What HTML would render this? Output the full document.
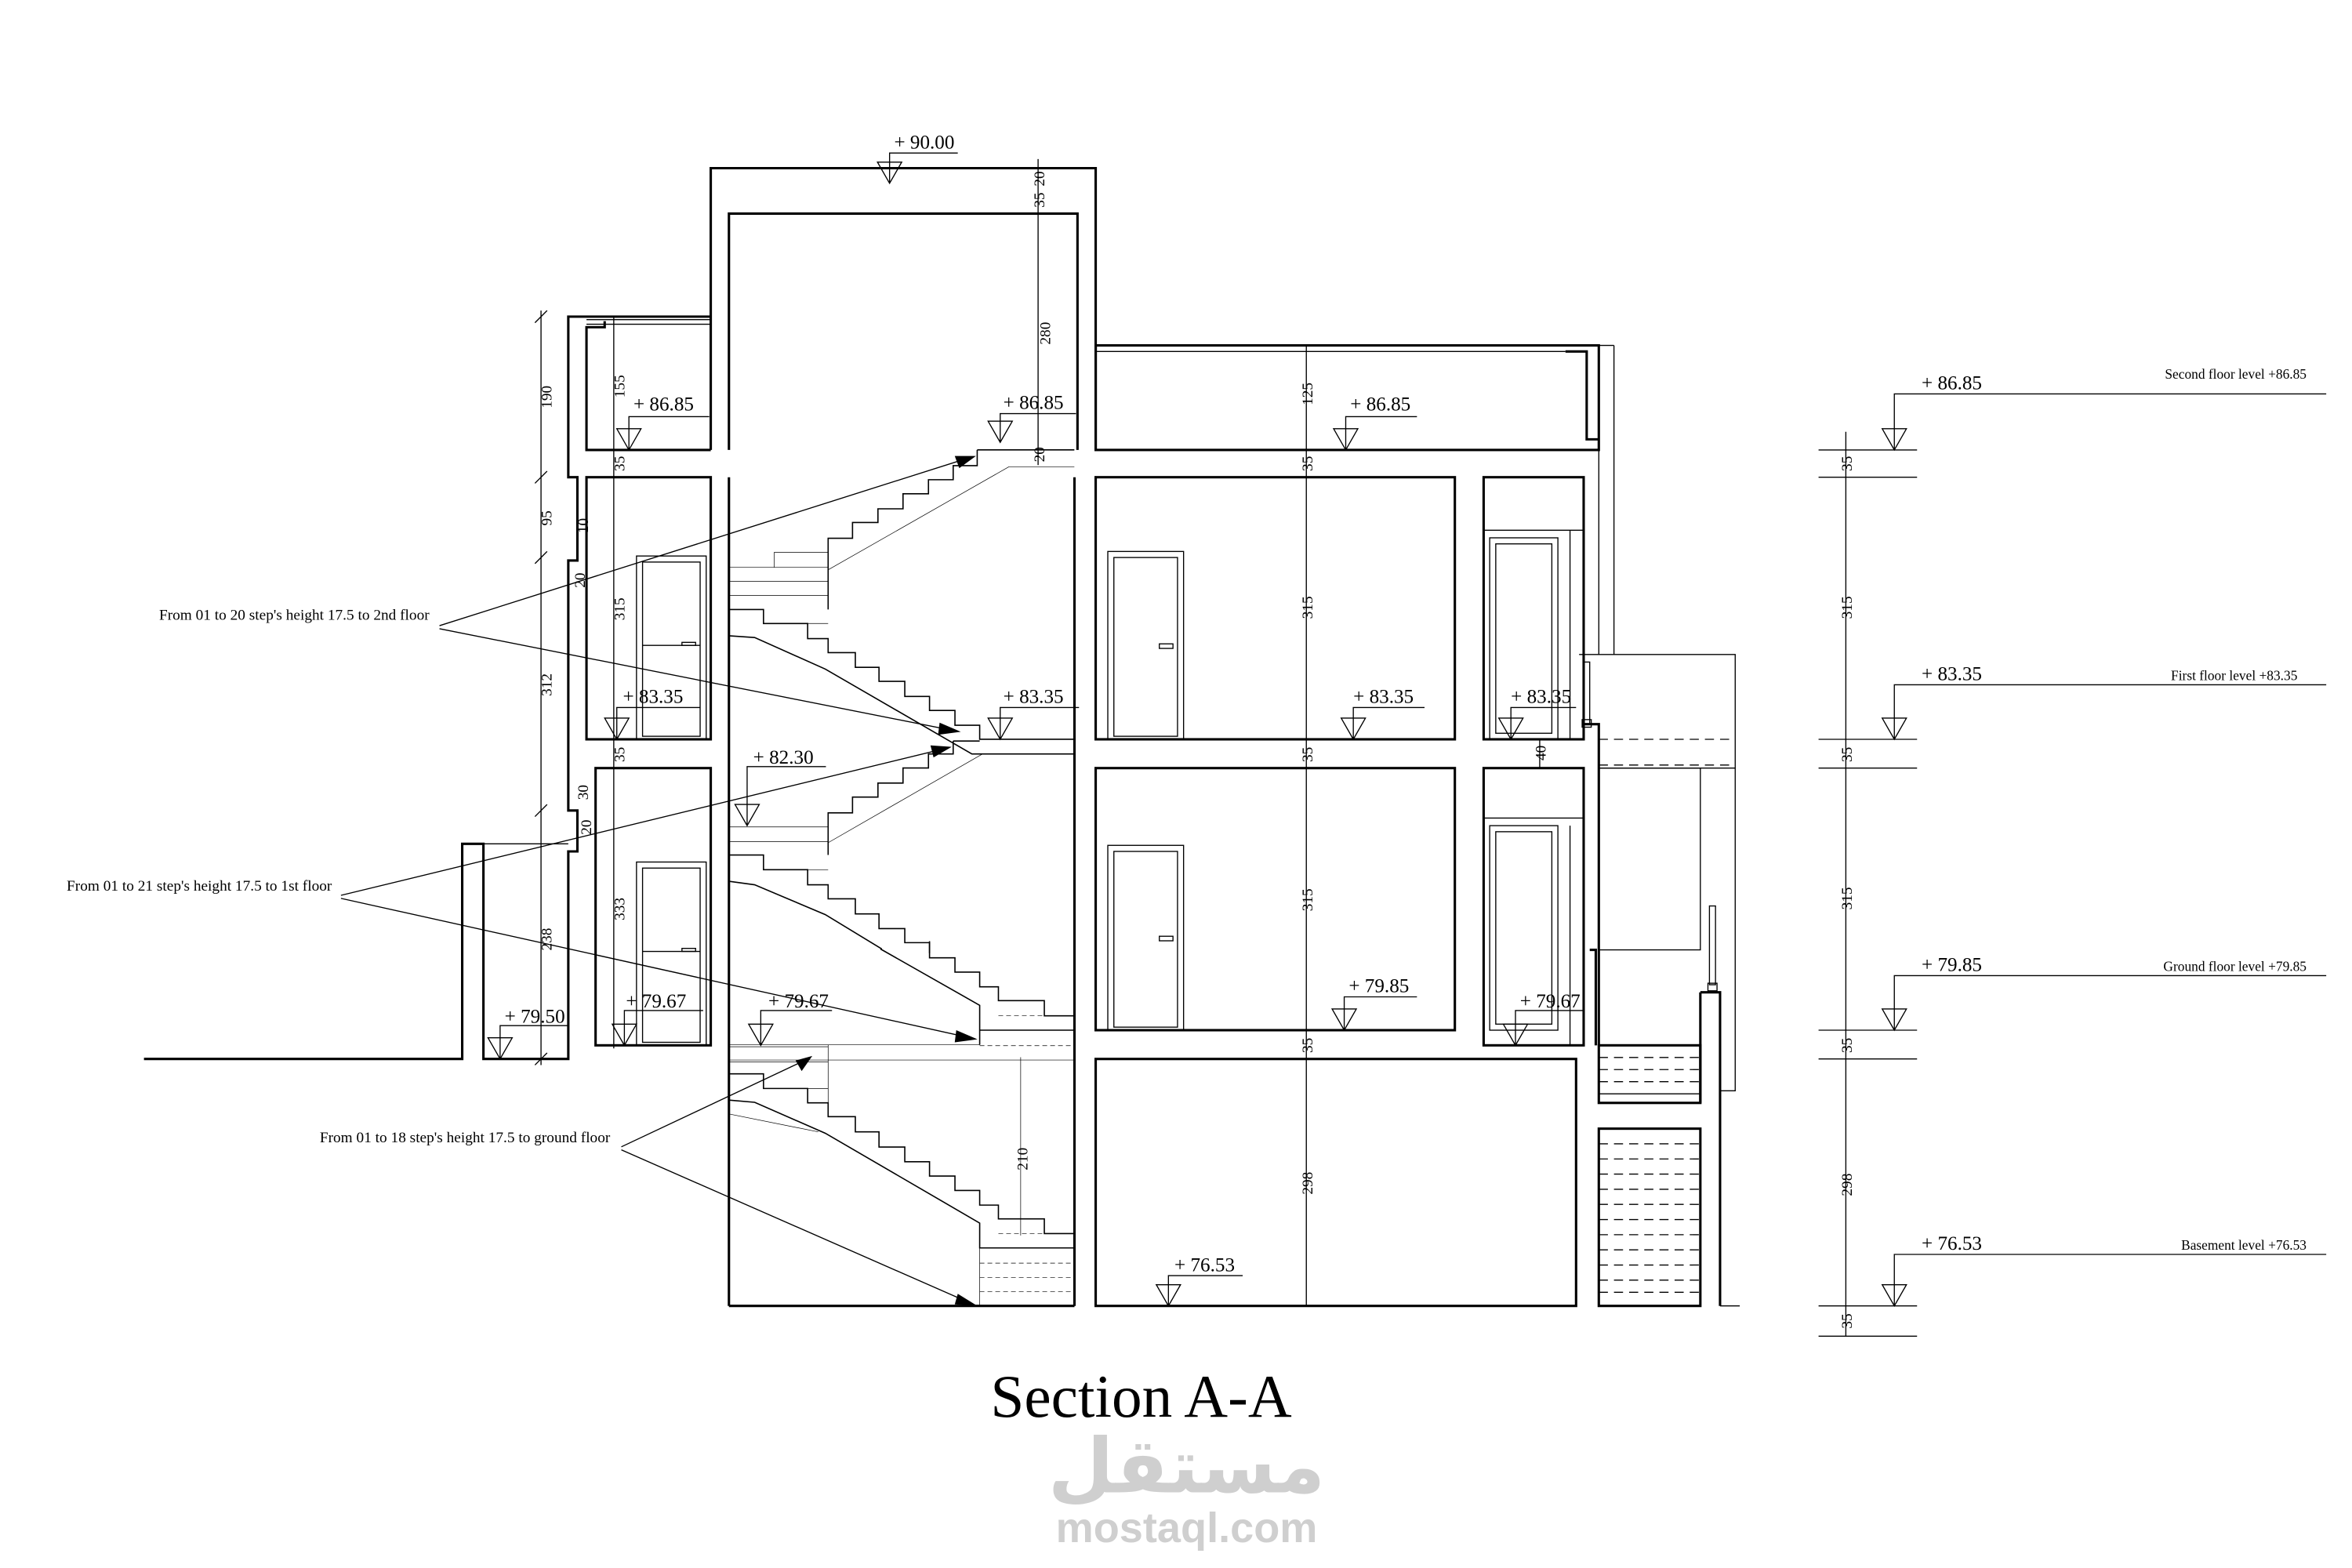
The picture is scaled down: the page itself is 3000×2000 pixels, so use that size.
<!DOCTYPE html>
<html><head><meta charset="utf-8"><style>
html,body{margin:0;padding:0;background:#fff;}
svg{display:block;}
text{font-family:"Liberation Serif",serif;fill:#000;}
.k{fill:none;stroke:#000;stroke-width:1.6;}
.t{fill:none;stroke:#000;stroke-width:0.7;}
.d{fill:none;stroke:#000;stroke-width:0.7;stroke-dasharray:6 4;}
.s{fill:none;stroke:#000;stroke-width:1.6;vector-effect:non-scaling-stroke;}
.st{fill:none;stroke:#000;stroke-width:0.7;vector-effect:non-scaling-stroke;}
.sd{fill:none;stroke:#000;stroke-width:0.7;stroke-dasharray:6 4;vector-effect:non-scaling-stroke;}
.lv{font-size:13px;}
.dm{font-size:10px;}
</style></head><body>
<svg width="3000" height="2000" viewBox="0 0 1552 1035" preserveAspectRatio="none" xmlns="http://www.w3.org/2000/svg">
<rect width="1552" height="1035" fill="#fff"/>

<!-- Tower -->
<path class="k" d="M469,297 L469,111 L723,111 L723,297"/>
<path class="k" d="M481,297 L481,141 L711,141 L711,297"/>
<line class="k" x1="481" y1="315" x2="481" y2="862"/>
<line class="k" x1="709" y1="315" x2="709" y2="862"/>
<line class="k" x1="481" y1="862" x2="709" y2="862"/>

<!-- Left block -->
<path class="k" d="M469,209 L375,209 L375,315 L381,315 L381,370 L375,370 L375,535 L381,535 L381,562 L375,562 L375,699 L319,699 L319,557 L305,557 L305,699 L95,699"/>
<line class="t" x1="387" y1="211" x2="469" y2="211"/>
<line class="t" x1="387" y1="214" x2="469" y2="214"/>
<path class="k" d="M469,297 L387,297 L387,216 L399,216 L399,212"/>
<rect class="k" x="387" y="315" width="82" height="173"/>
<rect class="k" x="393" y="507" width="76" height="183"/>
<line class="t" x1="319" y1="557" x2="375" y2="557"/>
<!-- left doors -->
<rect class="t" x="420" y="367" width="46" height="121"/>
<rect class="t" x="424" y="371" width="38" height="115"/>
<line class="t" x1="424" y1="426" x2="462" y2="426"/>
<rect class="t" x="450" y="424" width="9" height="2"/>
<rect class="t" x="420" y="569" width="46" height="121"/>
<rect class="t" x="424" y="573" width="38" height="115"/>
<line class="t" x1="424" y1="628" x2="462" y2="628"/>
<rect class="t" x="450" y="626" width="9" height="2"/>

<!-- Right block -->
<rect class="k" x="723" y="228" width="332" height="69"/>
<line class="t" x1="723" y1="232" x2="1033" y2="232"/>
<path class="k" d="M1033,232 L1047,232 L1047,290 L1055,290"/>
<rect class="k" x="723" y="315" width="237" height="173"/>
<rect class="k" x="723" y="507" width="237" height="173"/>
<rect class="k" x="723" y="699" width="317" height="163"/>
<rect class="k" x="979" y="315" width="66" height="173"/>
<rect class="k" x="979" y="507" width="66" height="183"/>
<line class="t" x1="979" y1="350" x2="1045" y2="350"/>
<line class="t" x1="979" y1="540" x2="1045" y2="540"/>
<rect class="t" x="983" y="355" width="45" height="133"/>
<rect class="t" x="987" y="359" width="37" height="125"/>
<rect class="t" x="983" y="545" width="45" height="135"/>
<rect class="t" x="987" y="549" width="37" height="127"/>
<line class="t" x1="1036" y1="350" x2="1036" y2="488"/>
<line class="t" x1="1036" y1="545" x2="1036" y2="690"/>
<!-- right doors -->
<rect class="t" x="731" y="364" width="50" height="124"/>
<rect class="t" x="735" y="368" width="42" height="118"/>
<rect class="t" x="765" y="425" width="9" height="3"/>
<rect class="t" x="731" y="558" width="50" height="122"/>
<rect class="t" x="735" y="562" width="42" height="116"/>
<rect class="t" x="765" y="618" width="9" height="3"/>

<!-- right extension -->
<line class="t" x1="1055" y1="297" x2="1055" y2="432"/>
<line class="t" x1="1065" y1="228" x2="1065" y2="432"/>
<line class="t" x1="1055" y1="228" x2="1065" y2="228"/>
<path class="t" d="M1042,432 L1145,432 L1145,720 L1135,720"/>
<path class="k" d="M1045,478 L1055,478 L1055,690"/>
<line class="d" x1="1055" y1="488" x2="1145" y2="488"/>
<line class="d" x1="1055" y1="505" x2="1145" y2="505"/>
<line class="t" x1="1055" y1="507" x2="1145" y2="507"/>
<path class="t" d="M1055,507 L1122,507 L1122,627 L1055,627"/>
<rect class="t" x="1045" y="437" width="4" height="41"/>
<rect class="t" x="1044" y="475" width="6" height="5"/>
<path class="k" d="M1049,627 L1053,627 L1053,690"/>
<rect class="k" x="1055" y="690" width="67" height="38"/>
<line class="d" x1="1055" y1="698" x2="1122" y2="698"/>
<line class="d" x1="1055" y1="706" x2="1122" y2="706"/>
<line class="d" x1="1055" y1="714" x2="1122" y2="714"/>
<line class="t" x1="1055" y1="722" x2="1122" y2="722"/>
<rect class="k" x="1055" y="745" width="67" height="117"/>
<g class="d">
<line x1="1055" y1="755" x2="1122" y2="755"/><line x1="1055" y1="765" x2="1122" y2="765"/>
<line x1="1055" y1="775" x2="1122" y2="775"/><line x1="1055" y1="785" x2="1122" y2="785"/>
<line x1="1055" y1="795" x2="1122" y2="795"/><line x1="1055" y1="805" x2="1122" y2="805"/>
<line x1="1055" y1="815" x2="1122" y2="815"/><line x1="1055" y1="825" x2="1122" y2="825"/>
<line x1="1055" y1="835" x2="1122" y2="835"/><line x1="1055" y1="845" x2="1122" y2="845"/>
<line x1="1055" y1="853" x2="1122" y2="853"/></g>
<path class="k" d="M1122,655 L1135,655 L1135,862"/>
<line class="k" x1="1122" y1="655" x2="1122" y2="728"/>
<line class="t" x1="1135" y1="862" x2="1148" y2="862"/>
<rect class="t" x="1128" y="598" width="4" height="52"/>
<rect class="t" x="1127" y="649" width="6" height="5"/>

<!-- Stairs upper (zoom1 coords) -->
<g transform="translate(470,263.4) scale(0.2331,0.2315)">
<path class="s" d="M750,145 L750,190 L682,190 L682,230 L612,230 L612,270 L540,270 L540,313 L469,313 L469,352 L397,352 L397,397 L328,397 L328,600"/>
<path class="s" d="M750,145 L1025,145"/>
<path class="st" d="M840,193 L1025,193 M328,487 L840,193"/>
<path class="st" d="M47,480 L328,480 M47,520 L328,520 M47,560 L328,560 M175,437 L328,437 M175,437 L175,480"/>
<path class="s" d="M47,600 L145,600 L145,640 L270,640 L270,683 L328,683 L328,723 L405,723 L405,765 L472,765 L472,805 L545,805 L545,848 L615,848 L615,888 L687,888 L687,930 L757,930 L757,970 L1025,970"/>
<path class="st" d="M145,640 L328,640 M270,683 L328,683"/>
<path class="s" d="M47,675 L120,680 L320,770 L735,1012 L1025,1012"/>
<path class="s" d="M682,975 L757,975 M682,975 L682,1012 L612,1012 L612,1052 L540,1052 L540,1095 L469,1095 L469,1135 L397,1135 L397,1180 L328,1180 L328,1300"/>
<path class="st" d="M328,1265 L765,1012"/>
<path class="st" d="M47,1220 L328,1220 M47,1262 L328,1262"/>
<path class="s" d="M47,1300 L145,1300 L145,1342 L270,1342 L270,1385 L328,1385 L328,1425 L405,1425 L405,1468 L472,1468 L472,1510 L545,1510 L545,1550 L615,1550 L615,1580"/>
<path class="st" d="M145,1342 L328,1342"/>
<path class="s" d="M47,1375 L120,1385 L320,1470 L480,1568"/>
</g>
<!-- Stairs lower (zoom2 coords) -->
<g transform="translate(470,601.2) scale(0.2331,0.1824)">
<path class="s" d="M615,110 L615,170 L687,170 L687,222 L757,222 L757,275 L810,275 L810,325 L940,325 L940,380 L1025,380"/>
<path class="sd" d="M810,380 L940,380"/>
<path class="s" d="M476,138 L757,342 L757,485"/>
<path class="s" d="M757,432 L1025,432"/>
<path class="sd" d="M757,488 L1025,488"/>
<path class="st" d="M47,485 L757,485 M47,492 L328,492 M47,540 L1025,540 M47,547 L328,547"/>
<path class="s" d="M47,590 L145,590 L145,643 L270,643 L270,695 L328,695 L328,745 L405,745 L405,800 L472,800 L472,855 L545,855 L545,908 L615,908 L615,960 L687,960 L687,1012 L757,1012 L757,1065 L810,1065 L810,1115 L940,1115 L940,1168 L1025,1168"/>
<path class="st" d="M328,485 L328,695 M145,643 L328,643"/>
<path class="sd" d="M810,1168 L940,1168"/>
<path class="s" d="M47,685 L120,693 L320,805 L757,1130 L757,1220 L1025,1220"/>
<path class="st" d="M47,735 L300,800 M757,1220 L757,1430"/>
<path class="sd" d="M757,1275 L1025,1275 M757,1327 L1025,1327 M757,1378 L1025,1378"/>
<path class="st" d="M873,530 L873,1175"/>
</g>
<text class="dm" transform="translate(678,765) rotate(-90)" text-anchor="middle">210</text>

<!-- Dimension lines -->
<line class="t" x1="357" y1="205" x2="357" y2="703"/>
<g class="t">
<line x1="353" y1="213" x2="361" y2="205"/><line x1="353" y1="319" x2="361" y2="311"/>
<line x1="353" y1="372" x2="361" y2="364"/><line x1="353" y1="539" x2="361" y2="531"/>
<line x1="353" y1="703" x2="361" y2="695"/></g>
<text class="dm" transform="translate(364,262) rotate(-90)" text-anchor="middle">190</text>
<text class="dm" transform="translate(364,342) rotate(-90)" text-anchor="middle">95</text>
<text class="dm" transform="translate(364,452) rotate(-90)" text-anchor="middle">312</text>
<text class="dm" transform="translate(364,620) rotate(-90)" text-anchor="middle">238</text>
<text class="dm" transform="translate(388,347) rotate(-90)" text-anchor="middle">10</text>
<text class="dm" transform="translate(386,383) rotate(-90)" text-anchor="middle">20</text>
<text class="dm" transform="translate(388,523) rotate(-90)" text-anchor="middle">30</text>
<text class="dm" transform="translate(390,546) rotate(-90)" text-anchor="middle">20</text>

<line class="t" x1="405" y1="209" x2="405" y2="692"/>
<text class="dm" transform="translate(412,255) rotate(-90)" text-anchor="middle">155</text>
<text class="dm" transform="translate(412,306) rotate(-90)" text-anchor="middle">35</text>
<text class="dm" transform="translate(412,402) rotate(-90)" text-anchor="middle">315</text>
<text class="dm" transform="translate(412,498) rotate(-90)" text-anchor="middle">35</text>
<text class="dm" transform="translate(412,600) rotate(-90)" text-anchor="middle">333</text>

<line class="t" x1="685" y1="105" x2="685" y2="307"/>
<text class="dm" transform="translate(689,118) rotate(-90)" text-anchor="middle">20</text>
<text class="dm" transform="translate(689,132) rotate(-90)" text-anchor="middle">35</text>
<text class="dm" transform="translate(693,220) rotate(-90)" text-anchor="middle">280</text>
<text class="dm" transform="translate(689,300) rotate(-90)" text-anchor="middle">20</text>

<line class="t" x1="862" y1="228" x2="862" y2="862"/>
<text class="dm" transform="translate(866,260) rotate(-90)" text-anchor="middle">125</text>
<text class="dm" transform="translate(866,306) rotate(-90)" text-anchor="middle">35</text>
<text class="dm" transform="translate(866,401) rotate(-90)" text-anchor="middle">315</text>
<text class="dm" transform="translate(866,498) rotate(-90)" text-anchor="middle">35</text>
<text class="dm" transform="translate(866,594) rotate(-90)" text-anchor="middle">315</text>
<text class="dm" transform="translate(866,690) rotate(-90)" text-anchor="middle">35</text>
<text class="dm" transform="translate(866,781) rotate(-90)" text-anchor="middle">298</text>
<line class="t" x1="1016" y1="488" x2="1016" y2="507"/>
<text class="dm" transform="translate(1020,497) rotate(-90)" text-anchor="middle">40</text>

<!-- Level markers -->
<g class="t">
<path d="M579,107 L595,107 L587,121 Z M587,121 L587,101 L632,101"/>
<path d="M407,283 L423,283 L415,297 Z M415,297 L415,275 L468,275"/>
<path d="M652,278 L668,278 L660,292 Z M660,292 L660,273 L710,273"/>
<path d="M880,283 L896,283 L888,297 Z M888,297 L888,275 L935,275"/>
<path d="M399,474 L415,474 L407,488 Z M407,488 L407,467 L462,467"/>
<path d="M652,474 L668,474 L660,488 Z M660,488 L660,467 L712,467"/>
<path d="M885,474 L901,474 L893,488 Z M893,488 L893,467 L940,467"/>
<path d="M989,474 L1005,474 L997,488 Z M997,488 L997,467 L1040,467"/>
<path d="M485,531 L501,531 L493,545 Z M493,545 L493,506 L545,506"/>
<path d="M322,685 L338,685 L330,699 Z M330,699 L330,677 L375,677"/>
<path d="M404,676 L420,676 L412,690 Z M412,690 L412,667 L464,667"/>
<path d="M494,676 L510,676 L502,690 Z M502,690 L502,667 L549,667"/>
<path d="M879,666 L895,666 L887,680 Z M887,680 L887,658 L935,658"/>
<path d="M992,676 L1008,676 L1000,690 Z M1000,690 L1000,667 L1045,667"/>
<path d="M763,848 L779,848 L771,862 Z M771,862 L771,842 L820,842"/>
</g>
<text class="lv" x="590" y="98">+ 90.00</text>
<text class="lv" x="418" y="271">+ 86.85</text>
<text class="lv" x="662" y="270">+ 86.85</text>
<text class="lv" x="891" y="271">+ 86.85</text>
<text class="lv" x="411" y="464">+ 83.35</text>
<text class="lv" x="662" y="464">+ 83.35</text>
<text class="lv" x="893" y="464">+ 83.35</text>
<text class="lv" x="997" y="464">+ 83.35</text>
<text class="lv" x="497" y="504">+ 82.30</text>
<text class="lv" x="333" y="675">+ 79.50</text>
<text class="lv" x="413" y="665">+ 79.67</text>
<text class="lv" x="507" y="665">+ 79.67</text>
<text class="lv" x="890" y="655">+ 79.85</text>
<text class="lv" x="1003" y="665">+ 79.67</text>
<text class="lv" x="775" y="839">+ 76.53</text>

<!-- Right legend -->
<line class="t" x1="1218" y1="285" x2="1218" y2="882"/>
<g class="t">
<line x1="1200" y1="297" x2="1265" y2="297"/><line x1="1200" y1="315" x2="1265" y2="315"/>
<line x1="1200" y1="488" x2="1265" y2="488"/><line x1="1200" y1="507" x2="1265" y2="507"/>
<line x1="1200" y1="680" x2="1265" y2="680"/><line x1="1200" y1="699" x2="1265" y2="699"/>
<line x1="1200" y1="862" x2="1265" y2="862"/><line x1="1200" y1="882" x2="1265" y2="882"/>
<path d="M1242,283 L1258,283 L1250,297 Z M1250,297 L1250,260 L1535,260"/>
<path d="M1242,474 L1258,474 L1250,488 Z M1250,488 L1250,452 L1535,452"/>
<path d="M1242,666 L1258,666 L1250,680 Z M1250,680 L1250,644 L1535,644"/>
<path d="M1242,848 L1258,848 L1250,862 Z M1250,862 L1250,828 L1535,828"/>
</g>
<text class="lv" x="1268" y="257">+ 86.85</text>
<text class="lv" x="1268" y="449">+ 83.35</text>
<text class="lv" x="1268" y="641">+ 79.85</text>
<text class="lv" x="1268" y="825">+ 76.53</text>
<text style="font-size:9px" x="1522" y="250" text-anchor="end">Second floor level +86.85</text>
<text style="font-size:9px" x="1516" y="449" text-anchor="end">First floor level +83.35</text>
<text style="font-size:9px" x="1522" y="641" text-anchor="end">Ground floor level +79.85</text>
<text style="font-size:9px" x="1522" y="825" text-anchor="end">Basement level +76.53</text>
<text class="dm" transform="translate(1222,306) rotate(-90)" text-anchor="middle">35</text>
<text class="dm" transform="translate(1222,401) rotate(-90)" text-anchor="middle">315</text>
<text class="dm" transform="translate(1222,498) rotate(-90)" text-anchor="middle">35</text>
<text class="dm" transform="translate(1222,593) rotate(-90)" text-anchor="middle">315</text>
<text class="dm" transform="translate(1222,690) rotate(-90)" text-anchor="middle">35</text>
<text class="dm" transform="translate(1222,782) rotate(-90)" text-anchor="middle">298</text>
<text class="dm" transform="translate(1222,872) rotate(-90)" text-anchor="middle">35</text>

<!-- Annotations -->
<text style="font-size:10px" x="105" y="409">From 01 to 20 step's height 17.5 to 2nd floor</text>
<text style="font-size:10px" x="44" y="588">From 01 to 21 step's height 17.5 to 1st floor</text>
<text style="font-size:10px" x="211" y="754">From 01 to 18 step's height 17.5 to ground floor</text>
<g class="t">
<line x1="290" y1="413" x2="640" y2="302"/>
<line x1="290" y1="415" x2="628" y2="482"/>
<line x1="225" y1="591" x2="624" y2="494"/>
<line x1="225" y1="593" x2="640" y2="685"/>
<line x1="410" y1="757" x2="533" y2="699"/>
<line x1="410" y1="759" x2="640" y2="860"/>
</g>
<g fill="#000">
<polygon points="644,301 630,301 633,309"/>
<polygon points="634,483 620,477 619,485"/>
<polygon points="628,493 614,492 616,500"/>
<polygon points="645,686 631,680 630,688"/>
<polygon points="536,697 525,700 529,707"/>
<polygon points="645,862 632,854 630,861"/>
</g>

<!-- Title -->
<text x="753" y="935" text-anchor="middle" style="font-size:40px">Section A-A</text>
<!-- Watermark -->
<text x="783" y="985" text-anchor="middle" style="font-family:'DejaVu Sans',sans-serif;font-size:50px;font-weight:bold;fill:#cfcfcf">مستقل</text>
<text x="783" y="1018" text-anchor="middle" style="font-family:'Liberation Sans',sans-serif;font-size:28px;font-weight:bold;fill:#cfcfcf">mostaql.com</text>
</svg>
</body></html>
